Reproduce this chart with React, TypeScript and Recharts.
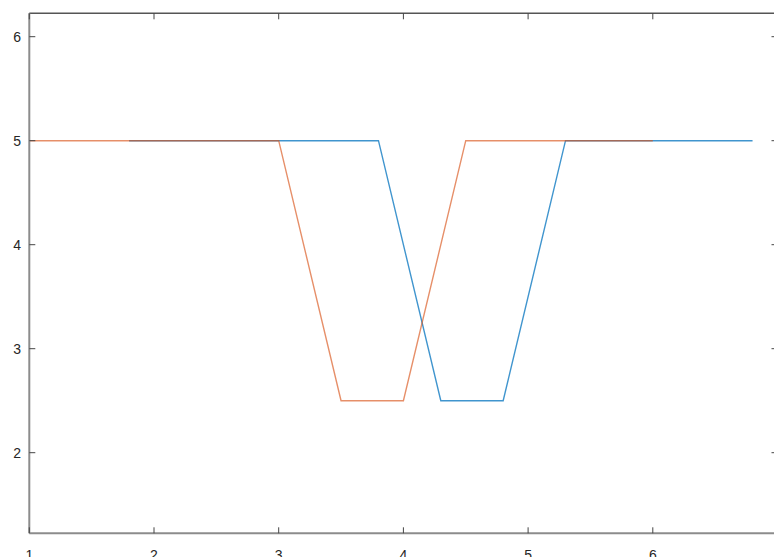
import { LineChart, Line, XAxis, YAxis } from 'recharts'

const blueX = [1.8, 3.8, 4.3, 4.8, 5.3, 6.8]
const blueY = [5, 5, 2.5, 2.5, 5, 5]
const orangeX = [1, 3, 3.5, 4, 4.5, 6]
const orangeY = [5, 5, 2.5, 2.5, 5, 5]
const xTicks = [1, 2, 3, 4, 5, 6]
const yTicks = [2, 3, 4, 5, 6]

const blueData = blueX.map((x, i) => ({ x, y: blueY[i] }))
const orangeData = orangeX.map((x, i) => ({ x, y: orangeY[i] }))

const FONT = '"Liberation Sans", Arial, sans-serif'
const TICK = '#444'

// plot edges in chart coords
const LEFT = 29.3
const RIGHT = 777.5
const TOP = 13.3
const BOTTOM = 533.3

const BottomTick = ({ x, payload }: any) => (
 <g>
  <line x1={x} x2={x} y1={BOTTOM} y2={BOTTOM - 6} stroke={TICK} strokeWidth={1} />
  <text x={x} y={BOTTOM + 27} textAnchor="middle" fontSize={14} fill="#262626" fontFamily={FONT}>
   {payload.value}
  </text>
 </g>
)

const TopTick = ({ x }: any) => (
 <line x1={x} x2={x} y1={TOP} y2={TOP + 6} stroke={TICK} strokeWidth={1} />
)

const LeftTick = ({ y, payload }: any) => (
 <g>
  <line x1={LEFT} x2={LEFT + 6} y1={y} y2={y} stroke={TICK} strokeWidth={1} />
  <text x={21} y={y} dy={5} textAnchor="end" fontSize={14} fill="#262626" fontFamily={FONT}>
   {payload.value}
  </text>
 </g>
)

const RightTick = ({ y }: any) => (
 <line x1={RIGHT} x2={RIGHT - 6} y1={y} y2={y} stroke={TICK} strokeWidth={1} />
)

export default function App() {
 return (
  <div style={{ position: 'fixed', left: 0, top: 0, width: 774, height: 557, overflow: 'hidden', background: '#fff' }}>
   <LineChart width={780} height={557} margin={{ top: 0, right: 0, bottom: 0, left: 0 }}>
    <XAxis
     xAxisId="b"
     type="number"
     dataKey="x"
     domain={[1, 7]}
     ticks={xTicks}
     height={557 - BOTTOM}
     tickLine={false}
     tick={<BottomTick />}
     axisLine={{ stroke: '#8c8c8c', strokeWidth: 2 }}
     allowDataOverflow
    />
    <XAxis
     xAxisId="t"
     orientation="top"
     type="number"
     dataKey="x"
     domain={[1, 7]}
     ticks={xTicks}
     height={TOP}
     tickLine={false}
     tick={<TopTick />}
     axisLine={{ stroke: '#555', strokeWidth: 1.5 }}
     allowDataOverflow
    />
    <YAxis
     yAxisId="l"
     type="number"
     domain={[1.225, 6.225]}
     ticks={yTicks}
     width={LEFT}
     tickLine={false}
     tick={<LeftTick />}
     axisLine={{ stroke: '#8c8c8c', strokeWidth: 2 }}
     allowDataOverflow
    />
    <YAxis
     yAxisId="r"
     orientation="right"
     type="number"
     domain={[1.225, 6.225]}
     ticks={yTicks}
     width={780 - RIGHT}
     tickLine={false}
     tick={<RightTick />}
     axisLine={{ stroke: '#555', strokeWidth: 1.5 }}
     allowDataOverflow
    />
    <Line
     xAxisId="b"
     yAxisId="l"
     data={blueData}
     dataKey="y"
     stroke="#0072BD"
     strokeWidth={1.4}
     strokeOpacity={0.75}
     dot={false}
     isAnimationActive={false}
    />
    <Line
     xAxisId="b"
     yAxisId="l"
     data={orangeData}
     dataKey="y"
     stroke="#D95319"
     strokeWidth={1.4}
     strokeOpacity={0.65}
     dot={false}
     isAnimationActive={false}
    />
   </LineChart>
  </div>
 )
}
